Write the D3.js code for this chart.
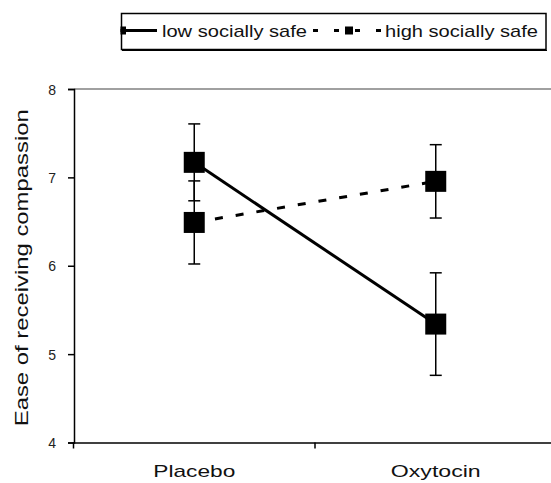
<!DOCTYPE html>
<html>
<head>
<meta charset="utf-8">
<script src="https://cdn.jsdelivr.net/npm/d3@7"></script>
<style>
  body { margin: 0; background: #fff; }
  text { font-family: "Liberation Sans", Arial, sans-serif; fill: #000; }
</style>
</head>
<body>
<div id="chart"></div>
<script>
// ---------------------------------------------------- DATA ---------------------------------------------------- //
const conditions = ["Placebo", "Oxytocin"];
const seriesNames = ["low socially safe", "high socially safe"];
const lowValues = [7.17, 5.34];
const lowErrors = [0.435, 0.58];
const highValues = [6.49, 6.955];
const highErrors = [0.47, 0.415];
const yTicks = [4, 5, 6, 7, 8];

const width = 551, height = 483;

const svg = d3.select("#chart")
  .append("svg")
  .attr("width", width)
  .attr("height", height);

// ---------------------------------------------------- SCALES -------------------------------------------------- //
const x = d3.scaleBand()
  .domain(conditions)
  .range([73.5, 556.5]);

const y = d3.scaleLinear()
  .domain([4, 8])
  .range([442.5, 89]);

const cx = function (c) { return x(c) + x.bandwidth() / 2; };

// top gray border of plot area
svg.append("line")
  .attr("x1", 74).attr("x2", width)
  .attr("y1", y(8)).attr("y2", y(8))
  .attr("stroke", "#808080")
  .attr("stroke-width", 1.5);

// ---------------------------------------------------- AXES ---------------------------------------------------- //
const yAxis = svg.append("g")
  .attr("transform", "translate(74,0)")
  .call(d3.axisLeft(y).tickValues(yTicks).tickSize(6).tickPadding(12).tickFormat(d3.format("d")));
yAxis.select(".domain").attr("stroke-width", 1.5);
yAxis.selectAll(".tick line").attr("stroke-width", 1.5);
yAxis.selectAll(".tick text")
  .style("font-size", "14px")
  .style("fill", "#222")
  .attr("dy", "0.36em");

const xAxis = svg.append("g")
  .attr("transform", "translate(0," + y(4) + ")")
  .call(d3.axisBottom(x).tickSize(0).tickPadding(22));
xAxis.select(".domain").attr("stroke-width", 1.5);
xAxis.selectAll(".tick text")
  .style("font-size", "17px")
  .style("fill", "#111")
  .attr("textLength", function (d) { return d === "Placebo" ? 82 : 90; })
  .attr("lengthAdjust", "spacingAndGlyphs");

// category boundary ticks on the x axis
svg.selectAll(".xbound")
  .data([x.range()[0], x(conditions[1])])
  .enter()
  .append("line")
  .attr("class", "xbound")
  .attr("x1", function (d) { return d; })
  .attr("x2", function (d) { return d; })
  .attr("y1", y(4))
  .attr("y2", y(4) + 6)
  .attr("stroke", "#000")
  .attr("stroke-width", 1.5);

// y axis title
svg.append("text")
  .attr("transform", "translate(28," + ((y(4) + y(8)) / 2 + 2) + ") rotate(-90)")
  .attr("text-anchor", "middle")
  .style("font-size", "18px")
  .style("fill", "#111")
  .attr("textLength", 317)
  .attr("lengthAdjust", "spacingAndGlyphs")
  .text("Ease of receiving compassion");

// ---------------------------------------------------- SERIES -------------------------------------------------- //
const series = [
  { name: seriesNames[0], values: lowValues, errors: lowErrors, dash: null },
  { name: seriesNames[1], values: highValues, errors: highErrors, dash: "8,13" }
];

const line = d3.line()
  .x(function (d) { return cx(d.c); })
  .y(function (d) { return y(d.v); });

series.forEach(function (s) {
  const pts = conditions.map(function (c, i) { return { c: c, v: s.values[i], e: s.errors[i] }; });

  svg.append("path")
    .datum(pts)
    .attr("d", line)
    .attr("fill", "none")
    .attr("stroke", "#000")
    .attr("stroke-width", 3)
    .attr("stroke-dasharray", s.dash);

  // error bars
  const eb = svg.append("g");
  eb.selectAll("line.v")
    .data(pts).enter().append("line")
    .attr("x1", function (d) { return cx(d.c); })
    .attr("x2", function (d) { return cx(d.c); })
    .attr("y1", function (d) { return y(d.v + d.e); })
    .attr("y2", function (d) { return y(d.v - d.e); })
    .attr("stroke", "#000").attr("stroke-width", 1.5);
  [1, -1].forEach(function (sign) {
    eb.selectAll(null)
      .data(pts).enter().append("line")
      .attr("x1", function (d) { return cx(d.c) - 6; })
      .attr("x2", function (d) { return cx(d.c) + 6; })
      .attr("y1", function (d) { return y(d.v + sign * d.e); })
      .attr("y2", function (d) { return y(d.v + sign * d.e); })
      .attr("stroke", "#000").attr("stroke-width", 1.5);
  });

  // square markers
  svg.selectAll(null)
    .data(pts).enter().append("rect")
    .attr("x", function (d) { return cx(d.c) - 10.5; })
    .attr("y", function (d) { return y(d.v) - 10.5; })
    .attr("width", 21)
    .attr("height", 21)
    .attr("fill", "#000");
});

// ---------------------------------------------------- LEGEND -------------------------------------------------- //
const legend = svg.append("g");
svg.append("clipPath").attr("id", "legclip")
  .append("rect").attr("x", 120.5).attr("y", 12).attr("width", 425.5).attr("height", 37);

legend.append("rect")
  .attr("x", 121.5).attr("y", 13.5)
  .attr("width", 424.5).attr("height", 36)
  .attr("fill", "none")
  .attr("stroke", "#000")
  .attr("stroke-width", 1.5);
legend.append("line")
  .attr("x1", 122).attr("x2", 547)
  .attr("y1", 50.5).attr("y2", 50.5)
  .attr("stroke", "#000").attr("stroke-width", 1);

const keys = legend.append("g").attr("clip-path", "url(#legclip)");
const legendItems = [
  { x1: 112, x2: 157, sq: 122, tx: 162, tw: 145, dash: null },
  { x1: 313, x2: 382, sq: 349, tx: 385, tw: 153, dash: "5,16" }
];
legendItems.forEach(function (it, i) {
  keys.append("line")
    .attr("x1", it.x1).attr("x2", it.x2)
    .attr("y1", 30.5).attr("y2", 30.5)
    .attr("stroke", "#000").attr("stroke-width", 3)
    .attr("stroke-dasharray", it.dash);
  keys.append("rect")
    .attr("x", it.sq - 4).attr("y", 26.5)
    .attr("width", 8).attr("height", 8)
    .attr("fill", "#000");
  legend.append("text")
    .attr("x", it.tx).attr("y", 36.5)
    .style("font-size", "17px")
    .style("fill", "#111")
    .attr("textLength", it.tw)
    .attr("lengthAdjust", "spacingAndGlyphs")
    .text(seriesNames[i]);
});
</script>
</body>
</html>
